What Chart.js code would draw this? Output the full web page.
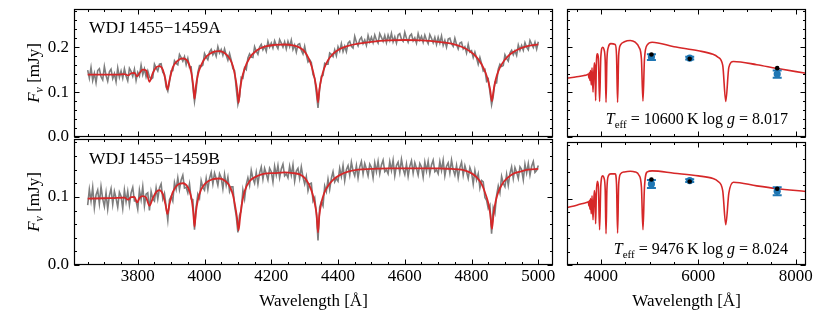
<!DOCTYPE html>
<html>
<head>
<meta charset="utf-8">
<script src="https://cdn.jsdelivr.net/npm/chart.js"></script>
<style>
  html, body { margin: 0; padding: 0; background: #fff; }
  #wrap { position: relative; width: 830px; height: 312px; overflow: hidden; }
  #wrap canvas { position: absolute; }
</style>
</head>
<body>
<div id="wrap">
  <canvas id="lt" width="560" height="150" style="left:0;top:0"></canvas>
  <canvas id="lb" width="560" height="174" style="left:0;top:138px"></canvas>
  <canvas id="rt" width="270" height="150" style="left:560px;top:0"></canvas>
  <canvas id="rb" width="270" height="174" style="left:560px;top:138px"></canvas>
</div>
<script>
// observed spectra (grey), 5 A sampling, one row = 50 A
const specWave = [
  3650,3655,3660,3665,3670,3675,3680,3685,3690,3695,
  3700,3705,3710,3715,3720,3725,3730,3735,3740,3745,
  3750,3755,3760,3765,3770,3775,3780,3785,3790,3795,
  3800,3805,3810,3815,3820,3825,3830,3835,3840,3845,
  3850,3855,3860,3865,3870,3875,3880,3885,3890,3895,
  3900,3905,3910,3915,3920,3925,3930,3935,3940,3945,
  3950,3955,3960,3965,3970,3975,3980,3985,3990,3995,
  4000,4005,4010,4015,4020,4025,4030,4035,4040,4045,
  4050,4055,4060,4065,4070,4075,4080,4085,4090,4095,
  4100,4105,4110,4115,4120,4125,4130,4135,4140,4145,
  4150,4155,4160,4165,4170,4175,4180,4185,4190,4195,
  4200,4205,4210,4215,4220,4225,4230,4235,4240,4245,
  4250,4255,4260,4265,4270,4275,4280,4285,4290,4295,
  4300,4305,4310,4315,4320,4325,4330,4335,4340,4345,
  4350,4355,4360,4365,4370,4375,4380,4385,4390,4395,
  4400,4405,4410,4415,4420,4425,4430,4435,4440,4445,
  4450,4455,4460,4465,4470,4475,4480,4485,4490,4495,
  4500,4505,4510,4515,4520,4525,4530,4535,4540,4545,
  4550,4555,4560,4565,4570,4575,4580,4585,4590,4595,
  4600,4605,4610,4615,4620,4625,4630,4635,4640,4645,
  4650,4655,4660,4665,4670,4675,4680,4685,4690,4695,
  4700,4705,4710,4715,4720,4725,4730,4735,4740,4745,
  4750,4755,4760,4765,4770,4775,4780,4785,4790,4795,
  4800,4805,4810,4815,4820,4825,4830,4835,4840,4845,
  4850,4855,4860,4865,4870,4875,4880,4885,4890,4895,
  4900,4905,4910,4915,4920,4925,4930,4935,4940,4945,
  4950,4955,4960,4965,4970,4975,4980,4985,4990,4995,
  5000
];
const specFluxA = [
  .149,.131,.155,.126,.142,.121,.148,.152,.134,.127,
  .157,.137,.124,.145,.151,.130,.141,.123,.154,.133,
  .147,.131,.152,.136,.125,.153,.146,.135,.151,.126,
  .144,.136,.160,.139,.152,.134,.147,.134,.129,.132,
  .162,.154,.147,.162,.163,.144,.139,.111,.102,.122,
  .147,.148,.170,.164,.161,.184,.177,.169,.179,.161,
  .175,.155,.156,.113,.079,.106,.144,.159,.157,.160,
  .186,.178,.172,.189,.195,.183,.191,.180,.201,.187,
  .195,.182,.196,.182,.171,.186,.171,.152,.148,.108,
  .073,.090,.133,.131,.154,.150,.176,.185,.178,.177,
  .201,.191,.184,.200,.206,.194,.202,.191,.213,.200,
  .209,.198,.214,.204,.197,.217,.209,.200,.212,.196,
  .213,.201,.216,.195,.205,.189,.206,.208,.193,.185,
  .202,.183,.167,.172,.166,.139,.131,.099,.065,.108,
  .135,.137,.164,.162,.162,.187,.184,.179,.194,.181,
  .201,.191,.208,.190,.202,.190,.209,.213,.202,.198,
  .224,.211,.203,.217,.222,.208,.216,.204,.226,.212,
  .222,.210,.227,.216,.209,.230,.222,.213,.226,.210,
  .227,.215,.231,.212,.223,.209,.227,.230,.218,.213,
  .233,.220,.211,.225,.229,.214,.221,.209,.230,.216,
  .224,.211,.227,.216,.208,.228,.220,.210,.222,.206,
  .222,.209,.225,.204,.215,.200,.218,.220,.208,.202,
  .220,.206,.196,.209,.211,.196,.201,.187,.206,.189,
  .192,.177,.189,.176,.162,.177,.163,.147,.150,.124,
  .129,.101,.072,.091,.122,.121,.151,.162,.157,.159,
  .183,.175,.169,.187,.193,.183,.192,.182,.205,.193,
  .204,.193,.210,.200,.194,.215,.207,.199,.211,.196,
  .212
];
const specFluxB = [
  .088,.111,.094,.114,.084,.103,.110,.090,.115,.097,
  .086,.106,.082,.102,.112,.089,.108,.098,.085,.107,
  .101,.083,.110,.093,.108,.088,.106,.114,.094,.094,
  .082,.110,.096,.115,.087,.104,.106,.080,.108,.097,
  .094,.113,.097,.113,.119,.097,.105,.086,.066,.096,
  .101,.094,.121,.111,.128,.111,.125,.132,.113,.114,
  .106,.119,.097,.096,.052,.085,.104,.098,.124,.114,
  .110,.127,.111,.127,.136,.119,.135,.127,.117,.134,
  .128,.112,.133,.117,.129,.108,.115,.115,.087,.072,
  .048,.073,.080,.110,.097,.118,.128,.117,.139,.127,
  .120,.136,.119,.135,.144,.126,.142,.134,.125,.142,
  .137,.122,.145,.132,.146,.128,.141,.148,.131,.134,
  .128,.145,.132,.147,.123,.138,.142,.127,.144,.129,
  .119,.130,.109,.119,.120,.094,.099,.077,.036,.085,
  .093,.087,.116,.108,.126,.111,.127,.137,.122,.127,
  .123,.142,.130,.146,.124,.140,.146,.132,.151,.138,
  .131,.146,.128,.144,.152,.134,.149,.141,.131,.148,
  .143,.128,.150,.137,.152,.134,.147,.154,.137,.140,
  .134,.152,.139,.154,.131,.146,.151,.136,.155,.141,
  .133,.148,.130,.145,.153,.135,.150,.142,.132,.149,
  .144,.129,.151,.138,.152,.134,.147,.154,.137,.140,
  .134,.152,.139,.154,.131,.145,.150,.135,.154,.140,
  .132,.146,.128,.143,.151,.132,.146,.137,.127,.143,
  .136,.119,.139,.125,.134,.113,.124,.122,.099,.095,
  .083,.088,.046,.084,.076,.102,.116,.106,.130,.120,
  .115,.133,.117,.134,.144,.127,.143,.136,.127,.144,
  .140,.125,.148,.135,.149,.132,.145,.152,.136,.139,
  .146
];

// best-fit model over the spectral range (red, left panels)
const fitWave = [
  3650,3700,3740,3760,3771,3780,3790,3798,3806,3815,3825,3835,3845,3855,3865,3875,3883,3889,3895,3905,
  3920,3935,3950,3960,3966,3970,3974,3980,3990,4005,4025,4045,4060,4075,4085,4093,4098,4102,4106,4111,
  4120,4135,4155,4180,4210,4240,4265,4285,4300,4312,4322,4330,4336,4340,4344,4350,4358,4370,4385,4405,
  4430,4460,4500,4550,4600,4650,4700,4740,4770,4795,4815,4830,4842,4850,4856,4861,4866,4872,4880,4892,
  4908,4925,4945,4970,5000
];
const fitFluxA = [
  .139,.139,.139,.140,.137,.142,.143,.135,.143,.150,.148,.123,.142,.155,.158,.150,.128,.106,.126,.155,
  .170,.175,.168,.145,.115,.085,.112,.138,.160,.179,.189,.191,.187,.175,.158,.130,.105,.076,.102,.127,
  .152,.176,.192,.201,.205,.206,.204,.199,.190,.175,.155,.130,.105,.077,.105,.130,.152,.171,.185,.196,
  .203,.208,.212,.215,.216,.215,.212,.208,.201,.191,.178,.162,.143,.124,.104,.080,.104,.127,.146,.164,
  .179,.189,.197,.203,.206
];
const fitFluxB = [
  .0975,.098,.0985,.099,.096,.0995,.100,.092,.099,.101,.099,.087,.098,.107,.110,.104,.089,.075,.089,.107,
  .118,.120,.114,.100,.079,.056,.077,.095,.111,.121,.126,.127,.124,.116,.103,.083,.067,.051,.067,.087,
  .108,.123,.130,.134,.135,.136,.135,.133,.128,.119,.107,.091,.073,.048,.073,.091,.105,.116,.125,.132,
  .137,.140,.141,.142,.142,.142,.142,.141,.140,.136,.129,.119,.104,.091,.075,.053,.075,.093,.107,.119,
  .128,.134,.137,.140,.141
];

// model SED (red, right panels)
const sedWave = [
  3300,3500,3650,3700,3740,3750,3760,3771,3782,3798,3815,3835,3860,3875,3889,3903,3925,3945,3970,3995,
  4035,4060,4085,4102,4120,4150,4200,4290,4318,4340,4362,4400,4480,4600,4700,4780,4830,4861,4892,4950,
  5050,5500,6000,6300,6400,6500,6563,6626,6720,7200,7600,8212
];
const sedFluxA = [
  .131,.134,.137,.138,.140,.131,.143,.126,.148,.116,.154,.100,.165,.152,.081,.160,.185,.175,.079,.178,
  .200,.195,.170,.077,.170,.200,.208,.206,.182,.077,.182,.205,.212,.215,.211,.200,.173,.080,.173,.205,
  .211,.201,.192,.184,.178,.160,.079,.155,.168,.161,.153,.142
];
const sedFluxB = [
  .0866,.090,.093,.094,.095,.089,.097,.084,.100,.077,.104,.068,.112,.101,.062,.108,.126,.118,.053,.120,
  .134,.131,.113,.047,.113,.134,.137,.137,.121,.048,.121,.137,.140,.141,.140,.135,.117,.053,.117,.140,
  .1415,.138,.134,.130,.126,.112,.0605,.108,.1245,.119,.115,.1105
];

// Gaia BP, G, RP photometry (blue) and synthetic model fluxes (black)
const photWave = [5035, 5822, 7620];
const photObsA = [.178, .1756, .140];
const photErrA = [.0065, .003, .008];
const photSynA = [.1837, .174, .1533];
const photObsB = [.122, .127, .111];
const photErrB = [.006, .002, .006];
const photSynB = [.1285, .1255, .1147];

// tick labels
const xTicksLeft = [3800, 4000, 4200, 4400, 4600, 4800, 5000];
const xTicksRight = [4000, 6000, 8000];
const yTicksTop = [0.0, 0.1, 0.2];
const yTicksBottom = [0.0, 0.1];

const SERIF = "'Liberation Serif', 'DejaVu Serif', serif";
const FS = 17;
const GREY = '#7d7d7d', RED = '#d62728', BLUE = '#1f77b4';

function pts(xs, ys) { return xs.map((x, i) => ({ x: x, y: ys[i] })); }

function fixedAxis(size) {
  return s => {
    if (s.isHorizontal()) s.height = size; else s.width = size;
    s.paddingLeft = s.paddingRight = s.paddingTop = s.paddingBottom = 0;
  };
}

// box + inward major/minor ticks on all four sides
const framePlugin = {
  id: 'frame',
  afterDatasetsDraw(chart, args, o) {
    const { ctx, chartArea: a, scales: { x, y } } = chart;
    const L = Math.round(a.left) + 0.5, R = Math.round(a.right) - 0.5;
    const T = Math.round(a.top) + 0.5, B = Math.round(a.bottom) - 0.5;
    ctx.save();
    ctx.strokeStyle = '#000';
    ctx.lineWidth = 1;
    const each = (sc, step, fn) => {
      for (let k = Math.ceil(sc.min / step - 1e-9); k * step <= sc.max + 1e-9; k++) fn(sc.getPixelForValue(k * step));
    };
    ctx.beginPath();
    [[o.xMinor, 2.5], [o.xMajor, 5]].forEach(([st, len]) => each(x, st, p => {
      p = Math.round(p) + 0.5;
      ctx.moveTo(p, B); ctx.lineTo(p, B - len);
      ctx.moveTo(p, T); ctx.lineTo(p, T + len);
    }));
    [[o.yMinor, 2.5], [o.yMajor, 5]].forEach(([st, len]) => each(y, st, p => {
      p = Math.round(p) + 0.5;
      ctx.moveTo(L, p); ctx.lineTo(L + len, p);
      ctx.moveTo(R, p); ctx.lineTo(R - len, p);
    }));
    ctx.stroke();
    ctx.lineWidth = 1.2;
    ctx.strokeRect(L, T, R - L, B - T);
    ctx.restore();
  }
};

const errorBars = {
  id: 'errorBars',
  beforeDatasetDraw(chart, args) {
    const ds = chart.data.datasets[args.index];
    if (!ds.errs) return;
    const { ctx, scales: { x, y } } = chart;
    ctx.save();
    ctx.strokeStyle = ds.backgroundColor;
    ctx.lineWidth = 2;
    ds.data.forEach((p, i) => {
      const px = x.getPixelForValue(p.x);
      const y1 = y.getPixelForValue(p.y - ds.errs[i]), y2 = y.getPixelForValue(p.y + ds.errs[i]);
      ctx.beginPath();
      ctx.moveTo(px, y1); ctx.lineTo(px, y2);
      ctx.moveTo(px - 4.5, y1); ctx.lineTo(px + 4.5, y1);
      ctx.moveTo(px - 4.5, y2); ctx.lineTo(px + 4.5, y2);
      ctx.stroke();
    });
    ctx.restore();
  }
};

function fontFor(s, size) {
  if (s === 'i') return 'italic ' + size + 'px ' + SERIF;
  if (s === 's') return Math.round(size * 0.7) + 'px ' + SERIF;
  if (s === 'si') return 'italic ' + Math.round(size * 0.72) + 'px ' + SERIF;
  return size + 'px ' + SERIF;
}
function drawRich(ctx, parts, x, y, align, size) {
  let w = 0;
  parts.forEach(([t, s]) => { ctx.font = fontFor(s, size); w += ctx.measureText(t).width; });
  let cx = align === 'right' ? x - w : align === 'center' ? x - w / 2 : x;
  ctx.textAlign = 'left';
  ctx.textBaseline = 'alphabetic';
  parts.forEach(([t, s]) => {
    ctx.font = fontFor(s, size);
    ctx.fillText(t, cx, y + (s === 's' || s === 'si' ? 4 : 0));
    cx += ctx.measureText(t).width;
  });
}

const annotPlugin = {
  id: 'annot',
  afterDraw(chart, args, o) {
    const ctx = chart.ctx;
    ctx.save();
    ctx.fillStyle = '#000';
    if (o.name) {
      ctx.font = '17.5px ' + SERIF;
      ctx.textAlign = 'left';
      ctx.textBaseline = 'alphabetic';
      ctx.fillText(o.name[0], o.name[1], o.name[2]);
    }
    if (o.ytitle) {
      ctx.save();
      ctx.translate(o.ytitle[0], o.ytitle[1]);
      ctx.rotate(-Math.PI / 2);
      drawRich(ctx, [['F', 'i'], ['\u03bd', 'si'], [' [mJy]', 'n']], 0, 0, 'center', FS);
      ctx.restore();
    }
    if (o.fit) drawRich(ctx, o.fit[0], o.fit[1], o.fit[2], 'right', 16);
    ctx.restore();
  }
};

function panel(id, c) {
  return new Chart(document.getElementById(id), {
    type: 'line',
    data: { datasets: c.datasets },
    options: {
      responsive: false,
      animation: false,
      events: [],
      layout: { padding: c.pad },
      plugins: {
        legend: { display: false },
        tooltip: { enabled: false },
        frame: c.frame,
        annot: c.annot
      },
      scales: {
        x: {
          type: 'linear', min: c.xMin, max: c.xMax,
          afterBuildTicks: s => { s.ticks = c.xTicks.map(v => ({ value: v })); },
          afterFit: fixedAxis(c.xH),
          grid: { display: false, drawTicks: false },
          border: { display: false },
          ticks: {
            display: c.xLabels, padding: 1, autoSkip: false, maxRotation: 0,
            font: { family: SERIF, size: FS }, color: '#000',
            callback: v => String(v)
          },
          title: {
            display: c.xLabels, text: 'Wavelength [Å]', color: '#000',
            font: { family: SERIF, size: FS }, padding: { top: 0, bottom: 0 }
          }
        },
        y: {
          type: 'linear', min: c.yMin, max: c.yMax,
          afterBuildTicks: s => { s.ticks = c.yTicks.map(v => ({ value: v })); },
          afterFit: fixedAxis(c.yW),
          grid: { display: false, drawTicks: false },
          border: { display: false },
          ticks: {
            display: c.yLabels, padding: 5, autoSkip: false,
            font: { family: SERIF, size: FS }, color: '#000',
            callback: v => v.toFixed(1)
          }
        }
      }
    },
    plugins: [framePlugin, errorBars, annotPlugin]
  });
}

function specSets(fit, obs) {
  return [
    { data: pts(fitWave, fit), borderColor: RED, borderWidth: 1.8, pointRadius: 0, cubicInterpolationMode: 'monotone' },
    { data: pts(specWave, obs), borderColor: GREY, borderWidth: 1.6, pointRadius: 0, tension: 0 }
  ];
}
function sedSets(sed, obs, err, syn) {
  return [
    { type: 'scatter', data: pts(photWave, syn), backgroundColor: '#000', pointRadius: 2.3, pointBorderWidth: 0 },
    { type: 'scatter', data: pts(photWave, obs), errs: err, backgroundColor: BLUE, pointRadius: 3.6, pointBorderWidth: 0 },
    { data: pts(sedWave, sed), borderColor: RED, borderWidth: 1.6, pointRadius: 0, cubicInterpolationMode: 'monotone' }
  ];
}

const leftFrame = { xMajor: 200, xMinor: 50, yMajor: 0.1, yMinor: 0.02 };
const rightFrame = { xMajor: 2000, xMinor: 500, yMajor: 0.1, yMinor: 0.02 };

panel('lt', {
  datasets: specSets(fitFluxA, specFluxA),
  pad: { top: 9, right: 7, left: 0, bottom: 0 },
  xMin: 3609, xMax: 5044, xTicks: xTicksLeft, xLabels: false, xH: 13,
  yMin: 0, yMax: 0.285, yTicks: yTicksTop, yLabels: true, yW: 74,
  frame: leftFrame,
  annot: { name: ['WDJ\u20091455\u22121459A', 89, 33], ytitle: [39, 73] }
});
panel('lb', {
  datasets: specSets(fitFluxB, specFluxB),
  pad: { top: 1, right: 7, left: 0, bottom: 0 },
  xMin: 3609, xMax: 5044, xTicks: xTicksLeft, xLabels: true, xH: 47,
  yMin: 0, yMax: 0.185, yTicks: yTicksBottom, yLabels: true, yW: 74,
  frame: leftFrame,
  annot: { name: ['WDJ\u20091455\u22121459B', 89, 26], ytitle: [39, 64] }
});
panel('rt', {
  datasets: sedSets(sedFluxA, photObsA, photErrA, photSynA),
  pad: { top: 9, right: 24, left: 0, bottom: 0 },
  xMin: 3300, xMax: 8212, xTicks: xTicksRight, xLabels: false, xH: 13,
  yMin: 0, yMax: 0.285, yTicks: yTicksTop, yLabels: false, yW: 7,
  frame: rightFrame,
  annot: { fit: [[['T', 'i'], ['eff', 's'], [' = 10600\u2009K log ', 'n'], ['g', 'i'], [' = 8.017', 'n']], 228, 124] }
});
panel('rb', {
  datasets: sedSets(sedFluxB, photObsB, photErrB, photSynB),
  pad: { top: 1, right: 24, left: 0, bottom: 0 },
  xMin: 3300, xMax: 8212, xTicks: xTicksRight, xLabels: true, xH: 47,
  yMin: 0, yMax: 0.185, yTicks: yTicksBottom, yLabels: false, yW: 7,
  frame: rightFrame,
  annot: { fit: [[['T', 'i'], ['eff', 's'], [' = 9476\u2009K log ', 'n'], ['g', 'i'], [' = 8.024', 'n']], 228, 116] }
});
</script>
</body>
</html>
